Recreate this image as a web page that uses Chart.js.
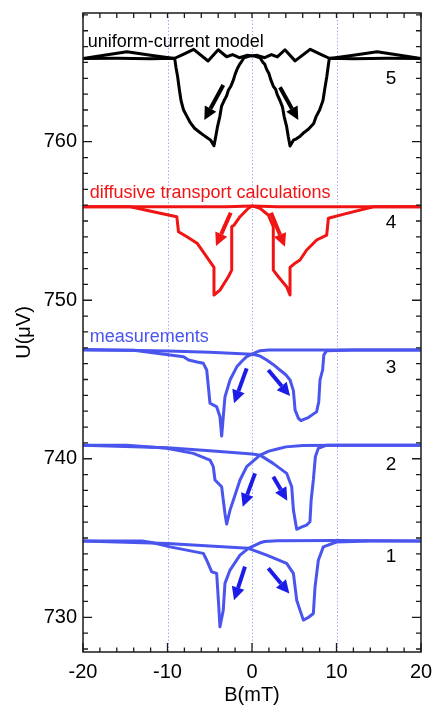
<!DOCTYPE html>
<html>
<head>
<meta charset="utf-8">
<script src="https://cdn.jsdelivr.net/npm/chart.js@4.4.1/dist/chart.umd.min.js"></script>
<style>
  body { margin: 0; background: #fff; }
  #box { width: 434px; height: 705px; }
</style>
</head>
<body>
<div id="box"><canvas id="myChart"></canvas></div>
<script>
// curve 5 - uniform-current model
const c5UpB = [-20, -17.5, -14.8, -12, -9.2, -8.2, -6.9, -5.2, -4.0, -3.0, -2.3, -1.5, -0.6, 0.3, 0.95, 1.3, 1.5, 1.74, 2.0, 2.2, 2.52, 2.8, 3.0, 3.31, 3.6, 3.8, 4.1, 4.3, 4.5, 4.9, 5.3, 5.7, 6.2, 6.7, 7.3, 7.6, 8.0, 8.4, 8.6, 8.85, 9.0, 9.15, 12, 16, 20]
const c5UpU = [765.25, 765.45, 765.68, 765.45, 765.25, 765.5, 765.83, 765.09, 765.8, 765.36, 765.5, 765.3, 765.45, 765.4, 765.3, 765.0, 764.9, 764.55, 764.3, 763.95, 763.5, 763.3, 762.95, 762.6, 762.2, 761.6, 760.95, 760.3, 759.73, 760.1, 760.2, 760.35, 760.6, 760.8, 761.15, 761.6, 762.0, 762.6, 763.3, 764.1, 764.7, 765.26, 765.24, 765.26, 765.25]
const c5DownB = [20, 17.5, 14.8, 12, 9.2, 8.2, 6.9, 5.1, 3.9, 3.0, 2.3, 1.5, 0.6, -0.3, -0.95, -1.3, -1.5, -1.74, -2.0, -2.2, -2.5, -2.8, -3.0, -3.3, -3.6, -3.8, -4.1, -4.3, -4.5, -4.9, -5.3, -5.7, -6.2, -6.8, -7.3, -7.7, -8.1, -8.4, -8.6, -8.8, -9.0, -9.15, -12, -16, -20]
const c5DownU = [765.25, 765.45, 765.68, 765.45, 765.25, 765.5, 765.83, 765.1, 765.8, 765.35, 765.5, 765.3, 765.45, 765.4, 765.3, 765.0, 764.85, 764.6, 764.25, 763.9, 763.5, 763.25, 762.9, 762.6, 762.25, 761.6, 760.9, 760.3, 759.75, 760.1, 760.25, 760.4, 760.6, 760.85, 761.2, 761.6, 762.0, 762.6, 763.3, 764.1, 764.7, 765.26, 765.24, 765.26, 765.25]

// curve 4 - diffusive transport calculations
const c4UpB = [-20, -10, -3, 0, 0.95, 1.93, 2.52, 2.52, 3.12, 4.1, 4.5, 4.5, 5.0, 5.68, 6.47, 7.1, 7.65, 8.84, 9.04, 11, 14.36, 20]
const c4UpU = [755.9, 755.9, 755.9, 755.95, 755.8, 755.38, 754.64, 751.9, 751.48, 750.85, 750.33, 752.07, 752.3, 752.54, 753.17, 753.5, 753.8, 754.11, 755.17, 755.45, 755.9, 755.9]
const c4DownB = [20, 10, 3, 0, -0.43, -1.42, -2.1, -2.4, -2.4, -2.8, -3.79, -4.5, -4.5, -5.36, -6.5, -7.7, -8.7, -8.9, -11, -14.4, -20]
const c4DownU = [755.9, 755.9, 755.9, 755.95, 755.8, 755.27, 754.75, 754.64, 751.9, 751.48, 750.64, 750.33, 752.07, 752.74, 753.6, 754.0, 754.32, 755.27, 755.5, 755.9, 755.9]

// curves 3, 2, 1 - measurements
const c3UpB = [-20, -10, -5, 0, 0.95, 1.74, 2.5, 3.3, 4.0, 4.5, 4.9, 5.1, 5.5, 5.8, 6.2, 6.67, 7.2, 7.65, 7.9, 8.05, 8.36, 8.5, 8.84, 12, 20]
const c3UpU = [746.9, 746.8, 746.72, 746.6, 746.48, 746.23, 745.95, 745.6, 745.3, 744.97, 744.3, 743.07, 742.55, 742.4, 742.5, 742.6, 742.8, 742.97, 743.6, 744.97, 745.6, 746.55, 746.82, 746.86, 746.86]
const c3DownB = [20, 10, 2, 0.95, 0, -0.63, -1.2, -1.8, -2.6, -3.2, -3.4, -3.59, -3.79, -4.18, -4.6, -4.97, -5.36, -5.76, -6.5, -7.5, -8.1, -11.3, -14, -20]
const c3DownU = [746.86, 746.86, 746.86, 746.82, 746.6, 746.44, 746.15, 745.8, 744.97, 743.9, 742.65, 741.43, 742.65, 743.28, 743.4, 743.5, 745.6, 746.02, 746.1, 746.23, 746.44, 746.65, 746.84, 746.86]

const c2UpB = [-20, -10, -5, 0, 0.95, 2.5, 4.1, 4.7, 4.9, 5.1, 5.29, 5.9, 6.47, 6.86, 7.0, 7.26, 7.5, 7.85, 8.84, 12, 20]
const c2UpU = [740.86, 740.7, 740.5, 740.3, 740.23, 739.71, 739.08, 738.23, 736.76, 736.13, 735.55, 735.7, 735.82, 736.03, 737.4, 738.66, 740.13, 740.66, 740.86, 740.86, 740.86]
const c2DownB = [20, 10, 6, 4, 3, 2, 0.95, -0.63, -1.42, -2.2, -2.6, -3.0, -3.2, -3.4, -3.59, -4.38, -4.58, -4.97, -6.94, -10.1, -14.8, -20]
const c2DownU = [740.86, 740.86, 740.84, 740.75, 740.62, 740.48, 740.23, 739.5, 738.66, 737.4, 736.76, 735.88, 736.55, 737.4, 738.23, 738.66, 739.5, 739.92, 740.34, 740.66, 740.86, 740.86]

const c1UpB = [-20, -10, -5, -0.43, 1.74, 4.1, 4.9, 5.29, 5.68, 6.08, 6.7, 7.26, 7.46, 7.85, 8.44, 10.0, 14, 20]
const c1UpU = [734.81, 734.65, 734.5, 734.35, 733.92, 733.4, 732.77, 731.08, 730.45, 729.82, 730.0, 730.24, 731.92, 733.6, 734.44, 734.75, 734.81, 734.81]
const c1DownB = [20, 10, 3, 1.5, 0.95, -0.43, -1.42, -2.6, -3.2, -3.4, -3.79, -3.98, -4.18, -4.77, -5.36, -5.76, -9.7, -11.7, -13, -20]
const c1DownU = [734.81, 734.84, 734.83, 734.78, 734.7, 734.35, 733.92, 732.98, 732.14, 730.45, 729.4, 731.08, 732.77, 732.87, 733.6, 734.03, 734.44, 734.7, 734.81, 734.81]

// sweep direction arrows (start -> tip)
const arrowStartB = [-3.4, 3.31, -2.52, 2.25, -0.63, 1.93, 0.36, 2.52, -0.83, 1.93]
const arrowStartU = [763.58, 763.43, 755.52, 755.52, 745.7, 745.6, 739.08, 738.86, 733.19, 733.09]
const arrowEndB = [-5.64, 5.48, -4.26, 3.9, -2.13, 4.5, -1.1, 4.18, -2.13, 4.42]
const arrowEndU = [761.37, 761.37, 753.42, 753.38, 743.5, 743.96, 736.97, 737.35, 731.08, 731.5]

const curveNames = ['5', '4', '3', '2', '1']
const xTickLabels = [-20, -10, 0, 10, 20]
const yTickLabels = [730, 740, 750, 760]

const BLACK = '#000000'
const RED = '#f01414'
const BLUE = '#4a55ee'
const ARROW_BLUE = '#1c1ce8'
const FONT = "'Liberation Sans', Arial, Helvetica, sans-serif"

const pts = (bs, us) => bs.map((b, i) => ({ x: b, y: us[i] }))

const branch = (bs, us, color) => ({
    data: pts(bs, us),
    showLine: true,
    borderColor: color,
    backgroundColor: color,
    borderWidth: 3,
    pointRadius: 0,
    tension: 0,
    borderJoinStyle: 'round'
})

const decor = {
    id: 'decor',
    beforeDatasetsDraw(chart) {
        const { ctx, chartArea: a, scales: { x } } = chart
        ctx.save()
        ctx.strokeStyle = '#a6aaf2'
        ctx.lineWidth = 1
        ctx.setLineDash([1.5, 2])
        for (const v of [-10, 0, 10]) {
            const px = Math.round(x.getPixelForValue(v)) + 0.5
            ctx.beginPath()
            ctx.moveTo(px, a.top)
            ctx.lineTo(px, a.bottom)
            ctx.stroke()
        }
        ctx.restore()
    },
    afterDatasetsDraw(chart) {
        const { ctx, chartArea: a, scales: { x, y } } = chart
        ctx.save()
        // frame
        ctx.strokeStyle = '#1a1a1a'
        ctx.lineWidth = 1.5
        ctx.strokeRect(a.left, a.top, a.right - a.left, a.bottom - a.top)
        // ticks
        ctx.lineWidth = 1.3
        ctx.beginPath()
        for (let v = -20; v <= 20; v += 2) {
            const px = x.getPixelForValue(v)
            const len = v % 10 === 0 ? 9 : 4.5
            ctx.moveTo(px, a.bottom); ctx.lineTo(px, a.bottom - len)
            ctx.moveTo(px, a.top); ctx.lineTo(px, a.top + 5)
        }
        for (let v = 728; v <= 768; v += 1) {
            const py = y.getPixelForValue(v)
            const len = v % 10 === 0 ? 9 : 5
            ctx.moveTo(a.left, py); ctx.lineTo(a.left + len, py)
            ctx.moveTo(a.right, py); ctx.lineTo(a.right - len, py)
        }
        ctx.stroke()

        // arrows
        for (let i = 0; i < arrowStartB.length; i++) {
            const color = i < 2 ? BLACK : (i < 4 ? RED : ARROW_BLUE)
            const x0 = x.getPixelForValue(arrowStartB[i]), y0 = y.getPixelForValue(arrowStartU[i])
            const x1 = x.getPixelForValue(arrowEndB[i]), y1 = y.getPixelForValue(arrowEndU[i])
            const ang = Math.atan2(y1 - y0, x1 - x0)
            const hl = 13, hw = 6.5
            const bx = x1 - hl * Math.cos(ang), by = y1 - hl * Math.sin(ang)
            ctx.strokeStyle = color
            ctx.fillStyle = color
            ctx.lineWidth = 4
            ctx.beginPath()
            ctx.moveTo(x0, y0)
            ctx.lineTo(bx, by)
            ctx.stroke()
            ctx.beginPath()
            ctx.moveTo(x1, y1)
            ctx.lineTo(bx + hw * Math.sin(ang), by - hw * Math.cos(ang))
            ctx.lineTo(bx - hw * Math.sin(ang), by + hw * Math.cos(ang))
            ctx.closePath()
            ctx.fill()
        }

        // curve captions
        ctx.textBaseline = 'alphabetic'
        ctx.textAlign = 'left'
        ctx.font = '18px ' + FONT
        ctx.fillStyle = BLACK
        ctx.fillText('uniform-current model', x.getPixelForValue(-19.45), y.getPixelForValue(765.98))
        ctx.fillStyle = RED
        ctx.fillText('diffusive transport calculations', x.getPixelForValue(-19.2), y.getPixelForValue(756.45))
        ctx.fillStyle = BLUE
        ctx.fillText('measurements', x.getPixelForValue(-19.2), y.getPixelForValue(747.35))

        // curve numbers
        ctx.fillStyle = BLACK
        ctx.font = '19px ' + FONT
        ctx.textAlign = 'center'
        ctx.textBaseline = 'middle'
        const numU = [764.0, 754.87, 745.73, 739.61, 733.8]
        curveNames.forEach((n, i) => {
            ctx.fillText(n, x.getPixelForValue(16.45), y.getPixelForValue(numU[i]))
        })
        ctx.restore()
    }
}

const grafica = document.getElementById('myChart').getContext('2d')

const myChart = new Chart(grafica, {
    type: 'scatter',
    data: {
        datasets: [
            branch(c5UpB, c5UpU, BLACK),
            branch(c5DownB, c5DownU, BLACK),
            branch(c4UpB, c4UpU, RED),
            branch(c4DownB, c4DownU, RED),
            branch(c3UpB, c3UpU, BLUE),
            branch(c3DownB, c3DownU, BLUE),
            branch(c2UpB, c2UpU, BLUE),
            branch(c2DownB, c2DownU, BLUE),
            branch(c1UpB, c1UpU, BLUE),
            branch(c1DownB, c1DownU, BLUE)
        ]
    },
    options: {
        responsive: true,
        maintainAspectRatio: false,
        animation: false,
        layout: { padding: { top: 13, right: 13, left: 0, bottom: 0 } },
        plugins: { legend: { display: false }, tooltip: { enabled: false } },
        scales: {
            x: {
                type: 'linear',
                min: -20,
                max: 20,
                afterFit: s => { s.height = 53; s.paddingLeft = 0; s.paddingRight = 0 },
                grid: { display: false, drawTicks: false },
                border: { display: false },
                ticks: {
                    stepSize: 10,
                    padding: 8,
                    color: '#000',
                    font: { size: 20, family: FONT },
                    callback: v => xTickLabels.includes(v) ? String(v) : ''
                },
                title: {
                    display: true,
                    text: 'B(mT)',
                    color: '#000',
                    font: { size: 20, family: FONT, lineHeight: 1 },
                    padding: { top: 0, bottom: 0 }
                }
            },
            y: {
                type: 'linear',
                min: 727.81,
                max: 768.12,
                afterFit: s => { s.width = 83; s.paddingTop = 0; s.paddingBottom = 0 },
                grid: { display: false, drawTicks: false },
                border: { display: false },
                ticks: {
                    stepSize: 10,
                    padding: 6,
                    color: '#000',
                    font: { size: 20, family: FONT },
                    callback: v => yTickLabels.includes(v) ? String(v) : ''
                },
                title: {
                    display: true,
                    text: 'U(μV)',
                    color: '#000',
                    font: { size: 20, family: FONT, lineHeight: 1 },
                    padding: { top: 14, bottom: 0 }
                }
            }
        }
    },
    plugins: [decor]
})
</script>
</body>
</html>
